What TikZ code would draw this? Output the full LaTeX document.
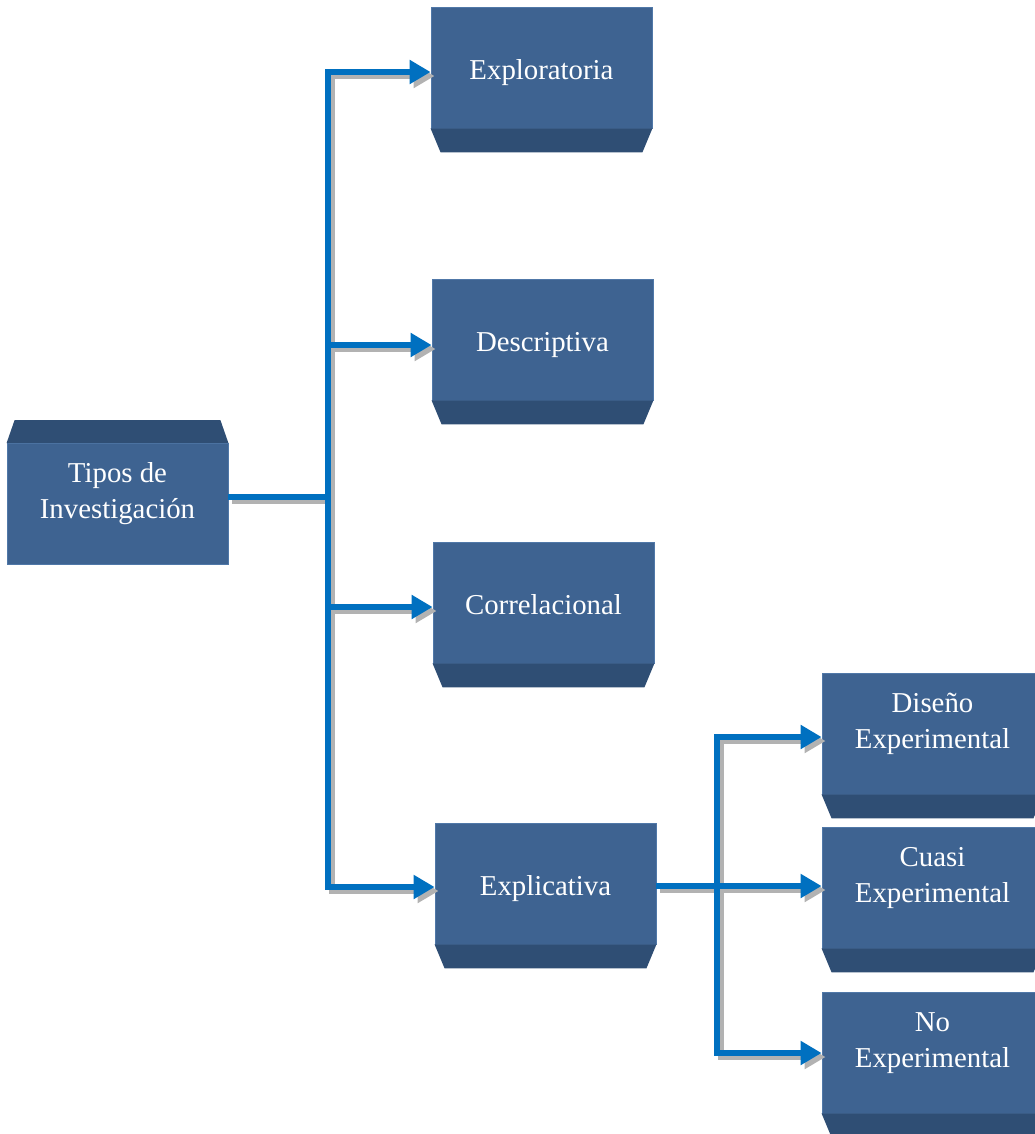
\documentclass[tikz,border=0pt]{standalone}
\usepackage{fontspec}
\setmainfont{Liberation Serif}
\usetikzlibrary{arrows.meta}
\definecolor{boxblue}{RGB}{62,99,145}
\definecolor{boxdark}{RGB}{47,78,116}
\definecolor{boxedge}{RGB}{80,120,168}
\definecolor{linkblue}{RGB}{0,112,192}
\begin{document}
\begin{tikzpicture}[x=0.02cm, y=-0.02cm,
  box/.style={rectangle, fill=boxblue, draw=boxedge, line width=0.5pt, inner sep=0pt,
    minimum width=4.42cm, text=white, align=center, font=\fontsize{16.4}{20.4}\selectfont},
  one/.style={text height=1.44cm, text depth=0.98cm},
  two/.style={text height=1.5cm, text depth=0.92cm},
  trunk/.style={line cap=rect},
  arr/.style={-{Triangle[length=0.42cm,width=0.46cm]}}]
\useasboundingbox (0,0) rectangle (1035,1134);
\clip (0,0) rectangle (1035,1134);

\node[box, two] (tipos) at (117.5,504) {Tipos de\\Investigación};
\node[box, one] (explo) at (541.5,67.5) {Exploratoria};
\node[box, one] (descrip) at (542.5,339.5) {Descriptiva};
\node[box, one] (correl) at (543.5,602.5) {Correlacional};
\node[box, one] (explic) at (545.5,883.5) {Explicativa};
\node[box, two] (diseno) at (932.5,733.5) {Diseño\\Experimental};
\node[box, two] (cuasi) at (932.5,887.5) {Cuasi\\Experimental};
\node[box, two] (noexp) at (932.5,1052.5) {No\\Experimental};

\fill[boxdark] (tipos.north west) -- (tipos.north east) -- ([shift={(-8,-23)}]tipos.north east) -- ([shift={(8,-23)}]tipos.north west) -- cycle;
\foreach \n in {explo,descrip,correl,explic,diseno,cuasi,noexp}
  \fill[boxdark] (\n.south west) -- (\n.south east) -- ([shift={(-10,24)}]\n.south east) -- ([shift={(10,24)}]\n.south west) -- cycle;

\coordinate (tj) at (328,497);
\coordinate (ta) at (328,72);
\coordinate (tb) at (328,345);
\coordinate (tc) at (328,607);
\coordinate (td) at (328,887);
\coordinate (ua) at (717,737);
\coordinate (ub) at (717,886);
\coordinate (uc) at (717,1053);

\foreach \c/\d in {gray!60/0.08, linkblue/0}{
\begin{scope}[transform canvas={xshift=\d cm, yshift=-\d cm}, every path/.style={draw=\c, line width=0.12cm}]
\path[draw] (tipos.east |- tj) -- (tj);
\path[draw, trunk] (ta) -- (td);
\path[draw, arr] (ta) -- (ta -| explo.west);
\path[draw, arr] (tb) -- (tb -| descrip.west);
\path[draw, arr] (tc) -- (tc -| correl.west);
\path[draw, arr] (td) -- (td -| explic.west);
\path[draw, arr] (explic.east |- ub) -- (ub -| cuasi.west);
\path[draw, trunk] (ua) -- (uc);
\path[draw, arr] (ua) -- (ua -| diseno.west);
\path[draw, arr] (uc) -- (uc -| noexp.west);
\end{scope}
}
\end{tikzpicture}
\end{document}
